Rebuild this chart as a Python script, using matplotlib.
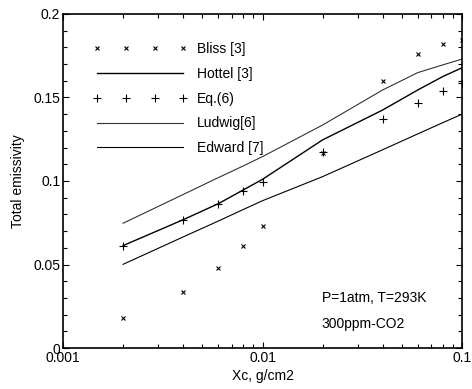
import matplotlib
matplotlib.use("Agg")
import matplotlib.pyplot as plt
from matplotlib.ticker import LogLocator, MultipleLocator, NullFormatter

plt.rcParams['font.family'] = ['Liberation Sans', 'DejaVu Sans']

xc = [0.002, 0.004, 0.006, 0.008, 0.01, 0.02, 0.04, 0.06, 0.08, 0.1]
bliss = [0.0178, 0.0335, 0.0477, 0.061, 0.0729, 0.117, 0.160, 0.176, 0.1818, 0.1844]
eq6 = [0.0613, 0.0768, 0.0864, 0.0942, 0.0996, 0.1175, 0.137, 0.147, 0.154, 0.1585]
hottel = [0.0613, 0.0768, 0.0864, 0.0946, 0.1010, 0.1246, 0.1425, 0.1545, 0.1625, 0.1678]
ludwig = [0.0747, 0.0919, 0.1020, 0.1090, 0.1146, 0.1335, 0.1545, 0.1649, 0.1695, 0.1730]
edward = [0.0501, 0.0665, 0.0760, 0.0829, 0.0882, 0.1026, 0.1187, 0.1282, 0.1349, 0.1400]

fig = plt.figure(figsize=(4.72, 3.89), dpi=100)
ax = fig.add_axes([63/472, 1-348/389, (462-63)/472, (348-14)/389])

ax.plot(xc, bliss, linestyle='none', marker='x', color='black', markersize=3.2, markeredgewidth=0.8, label='Bliss [3]')
ax.plot(xc, hottel, color='black', linewidth=1.0, label='Hottel [3]')
ax.plot(xc, eq6, linestyle='none', marker='+', color='black', markersize=5.5, markeredgewidth=0.8, label='Eq.(6)')
ax.plot(xc, ludwig, color='#333333', linewidth=0.8, label='Ludwig[6]')
ax.plot(xc, edward, color='black', linewidth=0.8, label='Edward [7]')

ax.set_xscale('log')
ax.set_xlim(0.001, 0.1)
ax.set_ylim(0, 0.2)
ax.set_xticks([0.001, 0.01, 0.1])
ax.set_xticklabels(['0.001', '0.01', '0.1'])
ax.xaxis.set_minor_locator(LogLocator(base=10, subs=range(2, 10)))
ax.xaxis.set_minor_formatter(NullFormatter())
ax.set_yticks([0, 0.05, 0.1, 0.15, 0.2])
ax.set_yticklabels(['0', '0.05', '0.1', '0.15', '0.2'])
ax.yaxis.set_minor_locator(MultipleLocator(0.01))
ax.tick_params(which='both', direction='in', top=True, right=True, labelsize=10, pad=2)
ax.tick_params(which='major', length=4, width=0.8)
ax.tick_params(which='minor', length=3, width=0.8)
for s in ax.spines.values():
    s.set_linewidth(1.2)

ax.set_xlabel('Xc, g/cm2', fontsize=10, labelpad=3)
ax.set_ylabel('Total emissivity', fontsize=10, labelpad=6)

ax.legend(loc='upper left', bbox_to_anchor=((97-63)/399 - 0.01, 1-(42-14)/334),
          frameon=False, numpoints=4, handlelength=6.8, handletextpad=0.7,
          labelspacing=0.78, borderpad=0, borderaxespad=0, fontsize=10)

ax.text(0.648, 0.149, 'P=1atm, T=293K', transform=ax.transAxes, fontsize=10, va='center', ha='left')
ax.text(0.648, 0.071, '300ppm-CO2', transform=ax.transAxes, fontsize=10, va='center', ha='left')

fig.savefig('out.png', dpi=100)
